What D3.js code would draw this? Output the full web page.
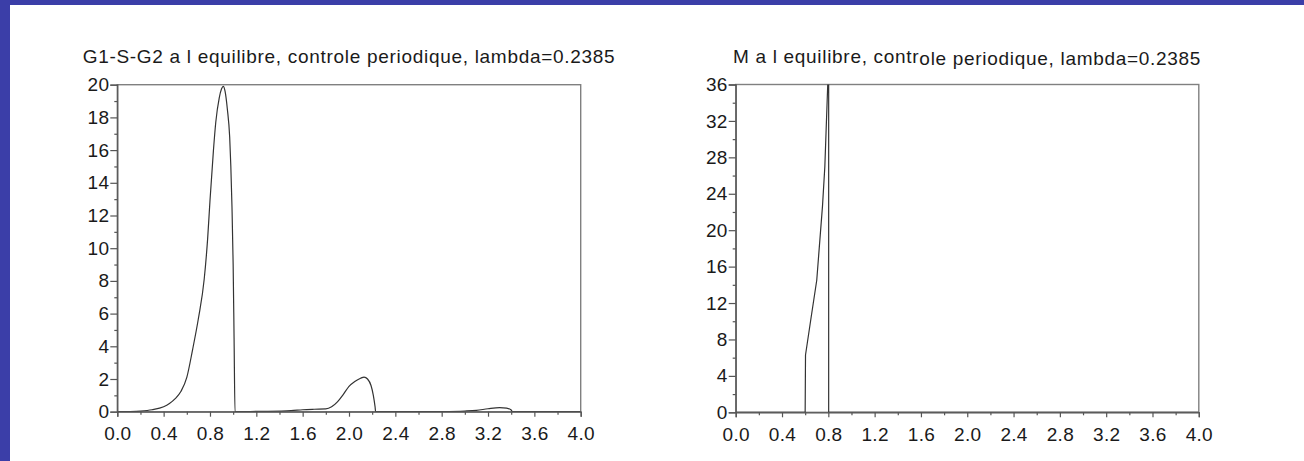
<!DOCTYPE html>
<html>
<head>
<meta charset="utf-8">
<script src="https://cdn.jsdelivr.net/npm/d3@7"></script>
<style>
  html, body { margin: 0; padding: 0; background: #ffffff; }
  svg { display: block; }
  text { font-family: "Liberation Sans", Arial, Helvetica, sans-serif; fill: #1a1a1a; }
</style>
</head>
<body>
<svg id="fig" width="1304" height="461"></svg>
<script>
// Equilibrium density G1-S-G2 (left panel)
const g1sg2X = [0.0, 0.1, 0.2, 0.3, 0.4, 0.45, 0.5, 0.55, 0.6, 0.65, 0.7, 0.75, 0.78, 0.8, 0.83, 0.85, 0.88, 0.9, 0.915, 0.93, 0.95, 0.97, 0.98, 0.99, 1.0, 1.008, 1.016,
                1.1, 1.3, 1.5, 1.6, 1.7, 1.8, 1.85, 1.9, 1.95, 2.0, 2.05, 2.1, 2.13, 2.16, 2.19, 2.21, 2.225, 2.23,
                2.5, 2.8, 3.0, 3.1, 3.2, 3.3, 3.36, 3.4, 3.41, 4.0];
const g1sg2Y = [0.0, 0.01, 0.04, 0.12, 0.3, 0.5, 0.8, 1.25, 2.1, 3.8, 5.7, 8.1, 10.6, 12.9, 16.0, 17.7, 19.2, 19.75, 19.9, 19.6, 18.5, 16.8, 15.0, 12.5, 9.0, 4.5, 0.0,
                0.01, 0.02, 0.06, 0.12, 0.15, 0.17, 0.3, 0.6, 1.05, 1.55, 1.85, 2.05, 2.12, 2.0, 1.6, 1.0, 0.3, 0.0,
                0.0, 0.01, 0.04, 0.08, 0.18, 0.25, 0.22, 0.1, 0.0, 0.0];

// Equilibrium density M (right panel)
const mX = [0.0, 0.6, 0.603, 0.65, 0.7, 0.75, 0.77, 0.795, 0.803, 0.803, 1.0, 2.0, 3.0, 4.0];
const mY = [0.0, 0.0, 6.3, 10.3, 14.5, 22.7, 27.0, 36.0, 36.0, 0.0, 0.0, 0.0, 0.0, 0.0];

// Tick labels
const xTicks = [0.0, 0.4, 0.8, 1.2, 1.6, 2.0, 2.4, 2.8, 3.2, 3.6, 4.0];
const xMinor = [0.2, 0.6, 1.0, 1.4, 1.8, 2.2, 2.6, 3.0, 3.4, 3.8];
const yTicksLeft = [0, 2, 4, 6, 8, 10, 12, 14, 16, 18, 20];
const yMinorLeft = [1, 3, 5, 7, 9, 11, 13, 15, 17, 19];
const yTicksRight = [0, 4, 8, 12, 16, 20, 24, 28, 32, 36];
const yMinorRight = [2, 6, 10, 14, 18, 22, 26, 30, 34];

const titleLeft = "G1-S-G2 a l equilibre, controle periodique, lambda=0.2385";
const titleRightA = "M a l equilibre, contr";
const titleRightB = "ole periodique, lambda=0.2385";

const svg = d3.select("#fig");
const FONT = "'Liberation Sans', Arial, Helvetica, sans-serif";

// blue page margin on the left and top
svg.append("rect").attr("x", 0).attr("y", 0).attr("width", 1304).attr("height", 461).attr("fill", "#3b3ea8");
svg.append("rect").attr("x", 10).attr("y", 5).attr("width", 1294).attr("height", 456).attr("fill", "#ffffff");

function styleLabels(sel) {
  sel.attr("font-size", 19).attr("fill", "#1a1a1a")
     .style("font-family", FONT).style("letter-spacing", "0.3px");
}

function panel(opts) {
  const { left, right, top, bottom, yMax, xs, ys, yMajor, yMinor, id, curve } = opts;
  const x = d3.scaleLinear().domain([0, 4]).range([left, right]);
  const y = d3.scaleLinear().domain([0, yMax]).range([bottom, top]);
  const g = svg.append("g");

  g.append("clipPath").attr("id", id).append("rect")
    .attr("x", left).attr("y", top).attr("width", right - left).attr("height", bottom - top);

  // frame
  g.append("rect").attr("x", left).attr("y", top).attr("width", right - left).attr("height", bottom - top)
    .attr("fill", "none").attr("stroke", "#808080").attr("stroke-width", 1.4);

  // curve
  const pts = xs.map((v, i) => [v, ys[i]]);
  g.append("path").datum(pts)
    .attr("clip-path", `url(#${id})`)
    .attr("fill", "none").attr("stroke", "#333").attr("stroke-width", 1.2)
    .attr("d", d3.line().curve(curve).x(d => x(d[0])).y(d => y(d[1])));

  // x axis
  const xAxis = d3.axisBottom(x).tickValues(xTicks).tickFormat(d3.format(".1f")).tickSize(5).tickPadding(10);
  const gx = g.append("g").attr("transform", `translate(0,${bottom})`).call(xAxis);
  gx.select(".domain").attr("stroke", "#555").attr("stroke-width", 1.3);
  gx.selectAll(".tick line").attr("stroke", "#555").attr("stroke-width", 1.2);
  styleLabels(gx.selectAll(".tick text"));
  g.append("g").attr("transform", `translate(0,${bottom})`)
    .call(d3.axisBottom(x).tickValues(xMinor).tickSize(3).tickFormat(""))
    .call(s => s.select(".domain").remove())
    .call(s => s.selectAll(".tick line").attr("stroke", "#555").attr("stroke-width", 1.2));

  // y axis
  const yAxis = d3.axisLeft(y).tickValues(yMajor).tickFormat(d3.format("d")).tickSize(7).tickPadding(1);
  const gy = g.append("g").attr("transform", `translate(${left},0)`).call(yAxis);
  gy.select(".domain").attr("stroke", "#555").attr("stroke-width", 1.3);
  gy.selectAll(".tick line").attr("stroke", "#555").attr("stroke-width", 1.2);
  styleLabels(gy.selectAll(".tick text"));
  g.append("g").attr("transform", `translate(${left},0)`)
    .call(d3.axisLeft(y).tickValues(yMinor).tickSize(3).tickFormat(""))
    .call(s => s.select(".domain").remove())
    .call(s => s.selectAll(".tick line").attr("stroke", "#555").attr("stroke-width", 1.2));

  return g;
}

panel({ left: 117.3, right: 580.7, top: 84.7, bottom: 411.7, yMax: 20,
        xs: g1sg2X, ys: g1sg2Y, yMajor: yTicksLeft, yMinor: yMinorLeft, id: "clipL", curve: d3.curveMonotoneX });
panel({ left: 735.7, right: 1198.8, top: 84.5, bottom: 412.3, yMax: 36,
        xs: mX, ys: mY, yMajor: yTicksRight, yMinor: yMinorRight, id: "clipR", curve: d3.curveLinear });

// titles
svg.append("text").attr("x", 349).attr("y", 63).attr("text-anchor", "middle")
  .attr("font-size", 19).style("letter-spacing", "0.7px").text(titleLeft);
const tr = svg.append("text").attr("x", 967).attr("y", 63).attr("text-anchor", "middle")
  .attr("font-size", 19).style("letter-spacing", "0.7px");
tr.append("tspan").text(titleRightA);
tr.append("tspan").attr("dy", 2).text(titleRightB);
</script>
</body>
</html>
